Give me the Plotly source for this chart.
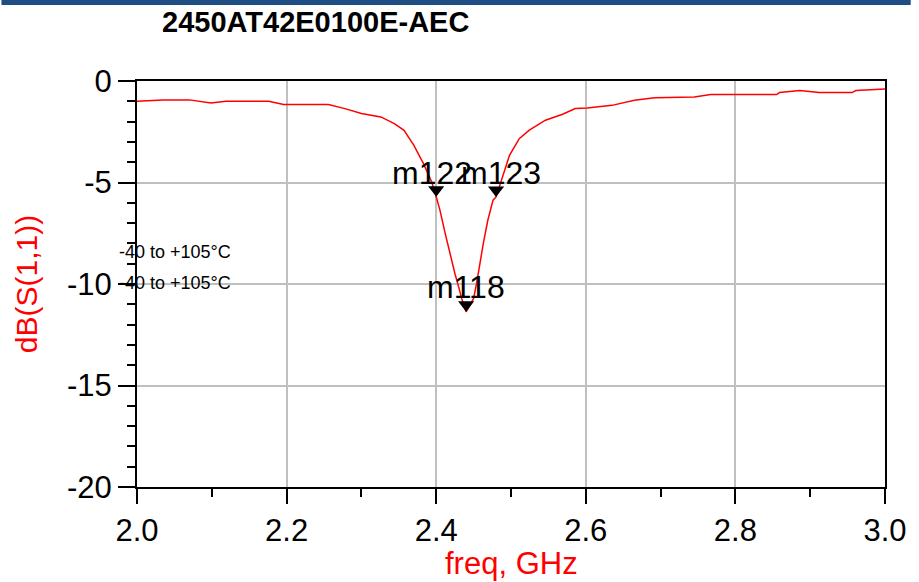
import plotly.graph_objects as go

# ---- data ----
freq_ghz = [2.000, 2.035, 2.070, 2.099, 2.119, 2.176, 2.196, 2.256, 2.278, 2.300,
            2.326, 2.344, 2.357, 2.370, 2.383, 2.394, 2.400, 2.405, 2.412, 2.419,
            2.425, 2.430, 2.434, 2.440, 2.450, 2.454, 2.458, 2.463, 2.469, 2.476,
            2.480, 2.487, 2.494, 2.498, 2.511, 2.524, 2.546, 2.569, 2.586, 2.602,
            2.635, 2.665, 2.692, 2.745, 2.767, 2.855, 2.859, 2.886, 2.912, 2.956,
            2.961, 2.996, 3.000]
s11_db = [-1.00, -0.93, -0.93, -1.08, -1.00, -1.00, -1.16, -1.16, -1.36, -1.60,
          -1.77, -2.10, -2.43, -3.16, -4.07, -4.97, -5.70, -6.36, -7.51, -8.66,
          -9.48, -10.14, -10.71, -11.37, -10.71, -9.97, -8.99, -8.00, -6.86, -5.87,
          -5.71, -4.89, -4.07, -3.66, -2.84, -2.43, -1.93, -1.64, -1.36, -1.33,
          -1.20, -0.95, -0.82, -0.79, -0.67, -0.67, -0.57, -0.47, -0.57, -0.57,
          -0.47, -0.42, -0.40]

marker_names = ["m122", "m123", "m118"]
marker_freq = [2.40, 2.48, 2.44]
marker_db = [-5.70, -5.71, -11.37]

x_ticks = [2.0, 2.2, 2.4, 2.6, 2.8, 3.0]
x_ticklabels = ["2.0", "2.2", "2.4", "2.6", "2.8", "3.0"]
y_ticks = [0, -5, -10, -15, -20]
y_ticklabels = ["0", "-5", "-10", "-15", "-20"]

title_text = "2450AT42E0100E-AEC"
temp_notes = ["-40 to +105°C", "-40 to +105°C"]
temp_note_y = [-8.42, -9.97]

# ---- layout constants ----
W, H = 919, 582
ML, MR, MT, MB = 137, 26, 81, 95
PW, PH = W - ML - MR, H - MT - MB
Y_RANGE = [-20, 0]
PX_PER_DB = PH / (Y_RANGE[1] - Y_RANGE[0])
FONT = "Arial, Liberation Sans, sans-serif"
MSIZE = 14  # triangle marker size (tip sits r = MSIZE/2 below centre)

fig = go.Figure()
fig.add_trace(go.Scatter(x=freq_ghz, y=s11_db, mode="lines",
                         line=dict(color="#ff0000", width=1.5),
                         hoverinfo="skip", showlegend=False))
fig.add_trace(go.Scatter(
    x=marker_freq,
    y=[v + (MSIZE / 2) / PX_PER_DB for v in marker_db],
    mode="markers",
    marker=dict(symbol="triangle-down", size=MSIZE, color="black",
                line=dict(width=0)),
    showlegend=False, hoverinfo="skip"))

label_shift = {"m122": (-4, 24), "m123": (5, 24), "m118": (0, 25)}
for name, fx, fy in zip(marker_names, marker_freq, marker_db):
    dx, dy = label_shift[name]
    fig.add_annotation(x=fx, y=fy, text=name, showarrow=False,
                       xshift=dx, yshift=dy, xanchor="center", yanchor="middle",
                       font=dict(family=FONT, size=32, color="black"))

for t, yv in zip(temp_notes, temp_note_y):
    fig.add_annotation(xref="paper", x=-20 / PW, y=yv, text=t, showarrow=False,
                       xanchor="left", yanchor="middle",
                       font=dict(family=FONT, size=18, color="black"))

# axis titles
fig.add_annotation(xref="paper", yref="paper", x=-(ML - 25) / PW, y=0.5,
                   text="dB(S(1,1))", textangle=-90, showarrow=False,
                   xanchor="center", yanchor="middle",
                   font=dict(family=FONT, size=30, color="#ff0000"))
fig.add_annotation(xref="paper", yref="paper", x=0.5, y=-(563 - MT - PH) / PH,
                   text="freq, GHz", showarrow=False,
                   xanchor="center", yanchor="middle",
                   font=dict(family=FONT, size=31, color="#ff0000"))

# title
fig.add_annotation(xref="paper", yref="paper", x=(160 - ML) / PW,
                   y=1 + (MT - 22) / PH, text="<b>" + title_text + "</b>",
                   showarrow=False, xanchor="left", yanchor="middle",
                   font=dict(family=FONT, size=29, color="black"))

# top dark-blue bar
fig.add_shape(type="rect", xref="paper", yref="paper",
              x0=-ML / PW, x1=1 + MR / PW, y0=1 + (MT - 5) / PH, y1=1 + MT / PH,
              fillcolor="#1f4e84", line=dict(width=0), layer="above")

axis_common = dict(showline=True, linecolor="black", linewidth=2, mirror=True,
                   showgrid=True, gridcolor="#c0c0c0", gridwidth=1.5,
                   ticks="outside", tickcolor="black", tickwidth=1.5,
                   zeroline=False,
                   tickfont=dict(family=FONT, size=31, color="black"))

fig.update_layout(
    width=W, height=H,
    margin=dict(l=ML, r=MR, t=MT, b=MB),
    paper_bgcolor="white", plot_bgcolor="white",
    xaxis=dict(range=[2.0, 3.0], tickvals=x_ticks, ticktext=x_ticklabels,
               ticklen=15,
               minor=dict(dtick=0.1, tick0=2.0, ticks="outside", ticklen=8,
                          tickcolor="black", tickwidth=1.5, showgrid=False),
               **axis_common),
    yaxis=dict(range=Y_RANGE, tickvals=y_ticks, ticktext=y_ticklabels,
               ticklen=17,
               minor=dict(dtick=1, tick0=0, ticks="outside", ticklen=8,
                          tickcolor="black", tickwidth=1.5, showgrid=False),
               **axis_common),
)

fig.write_html("out.html")
